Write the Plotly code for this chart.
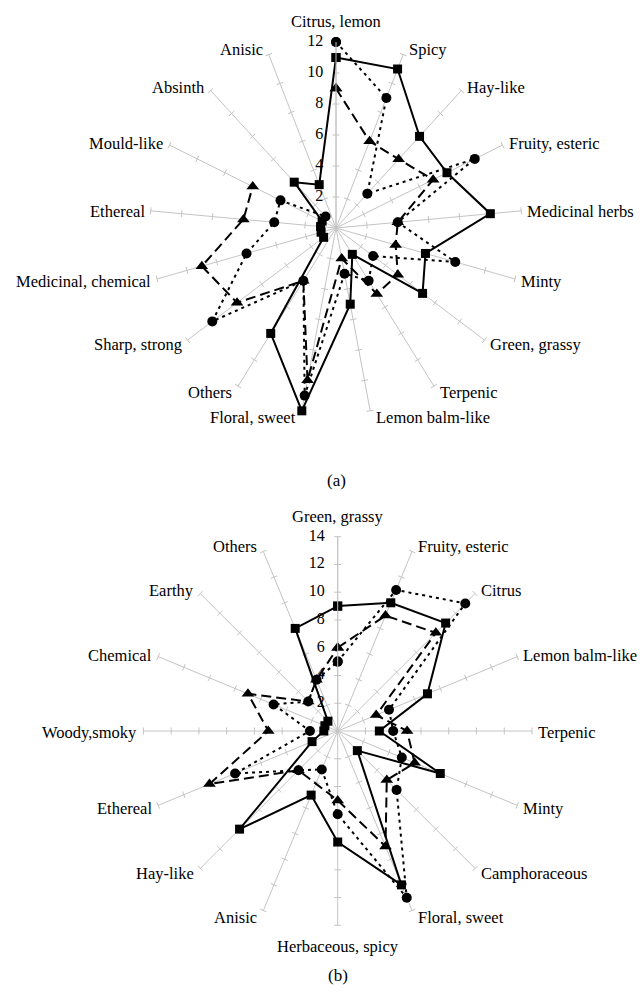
import math
import plotly.graph_objects as go

# ---- Panel (a): aroma attributes, three samples ----
cats_a = ["Citrus, lemon", "Spicy", "Hay-like", "Fruity, esteric", "Medicinal herbs",
          "Minty", "Green, grassy", "Terpenic", "Lemon balm-like", "Floral, sweet",
          "Others", "Sharp, strong", "Medicinal, chemical", "Ethereal", "Mould-like",
          "Absinth", "Anisic"]
square_a = [11, 11, 8, 8, 10, 6, 7, 2, 5, 12, 8, 1, 1, 1, 1, 4, 3]
circle_a = [12, 9, 3, 10, 4, 8, 3, 4, 3, 11, 4, 10, 6, 4, 4, 1, None]
triangle_a = [9, 6, 6, 7, 4, 4, 5, 5, 2, 10, 4, 8, 9, 6, 6, None, None]
ticks_a = [2, 4, 6, 8, 10, 12]

# ---- Panel (b) ----
cats_b = ["Green, grassy", "Fruity, esteric", "Citrus", "Lemon balm-like", "Terpenic",
          "Minty", "Camphoraceous", "Floral, sweet", "Herbaceous, spicy", "Anisic",
          "Hay-like", "Ethereal", "Woody,smoky", "Chemical", "Earthy", "Others"]
square_b = [9, 10, 11, 7, 3, 8, 2, 12, 8, 5, 10, 2, 1, 1, 1, 8]
circle_b = [5, 11, 13, 4, 4, 5, 6, 13, 6, 3, 4, 8, 2, 5, 3, 4]
triangle_b = [6, 9, 10, 3, 5, 6, 5, 9, 5, None, 4, 10, 5, 7, 3, 4]
ticks_b = [2, 4, 6, 8, 10, 12, 14]

FONT = "Liberation Serif"
GRID = "#c4c4c4"
W, H = 644, 996
center_a, rad_a = (336, 228), 186
center_b, rad_b = (337.7, 731), 194.3

fig = go.Figure()


def closed(values):
    return list(values) + [values[0]]


def add_spoke_ticks(cats, tickvals, subplot):
    # small perpendicular tick marks along every spoke
    n = len(cats)
    r, th, ang = [], [], []
    for i, c in enumerate(cats):
        for v in tickvals:
            r.append(v)
            th.append(c)
            ang.append(i * 360.0 / n - 90)
    fig.add_trace(go.Scatterpolar(
        r=r, theta=th, mode="markers", subplot=subplot, hoverinfo="skip",
        marker=dict(symbol="line-ns", size=5, angle=ang,
                    line=dict(color=GRID, width=1)),
        showlegend=False))


def add_value_labels(cats, tickvals, subplot):
    # numbers along the top spoke, set to its left
    fig.add_trace(go.Scatterpolar(
        r=tickvals, theta=[cats[0]] * len(tickvals), subplot=subplot,
        mode="markers+text", text=[str(v) for v in tickvals],
        textposition="middle left", cliponaxis=False, hoverinfo="skip",
        textfont=dict(family=FONT, size=16, color="black"),
        marker=dict(size=19, color="rgba(0,0,0,0)"),
        showlegend=False))


def add_series(cats, vals, subplot, symbol, size, dash, gaps=False):
    fig.add_trace(go.Scatterpolar(
        r=closed(vals), theta=closed(cats), subplot=subplot,
        mode="lines+markers", connectgaps=gaps, cliponaxis=False,
        line=dict(color="black", width=2, dash=dash),
        marker=dict(symbol=symbol, size=size, color="black"),
        showlegend=False))


def category_labels(cats, center, R):
    # attribute names placed just beyond the end of each spoke
    out = []
    n = len(cats)
    cx, cy = center
    for i, c in enumerate(cats):
        th = math.radians(90 - i * 360.0 / n)
        co, si = math.cos(th), math.sin(th)
        px, py = cx + R * co, cy - R * si
        if abs(co) < 0.05:
            xanchor, xs = "center", 0
            down = -20 if si > 0 else 21
        else:
            xanchor = "left" if co > 0 else "right"
            xs = 4 if co > 0 else -4
            down = 1 - 6 * si
        out.append(dict(text=c, x=px / W, y=1 - py / H, xref="paper", yref="paper",
                        xanchor=xanchor, yanchor="middle", xshift=xs, yshift=-down,
                        showarrow=False,
                        font=dict(family=FONT, size=16.5, color="black")))
    return out


add_spoke_ticks(cats_a, ticks_a, "polar")
add_spoke_ticks(cats_b, ticks_b, "polar2")
add_value_labels(cats_a, ticks_a, "polar")
add_value_labels(cats_b, ticks_b, "polar2")

add_series(cats_a, circle_a, "polar", "circle", 10, "3px,4px")
add_series(cats_a, triangle_a, "polar", "triangle-up", 11, "10px,5px")
add_series(cats_a, square_a, "polar", "square", 9, "solid")

add_series(cats_b, circle_b, "polar2", "circle", 10, "3px,4px")
add_series(cats_b, triangle_b, "polar2", "triangle-up", 11, "10px,5px", gaps=True)
add_series(cats_b, square_b, "polar2", "square", 9, "solid")


def polar_layout(cats, rmax, center, R):
    cx, cy = center
    return dict(
        domain=dict(x=[(cx - R) / W, (cx + R) / W],
                    y=[(H - cy - R) / H, (H - cy + R) / H]),
        bgcolor="white",
        radialaxis=dict(range=[0, rmax], showgrid=False, showticklabels=False,
                        showline=True, linecolor=GRID, linewidth=1, ticks="",
                        angle=90),
        angularaxis=dict(type="category", categoryorder="array", categoryarray=cats,
                         rotation=90, direction="clockwise", showgrid=True,
                         gridcolor=GRID, gridwidth=1, showline=False,
                         ticks="", showticklabels=False),
    )


annotations = category_labels(cats_a, center_a, rad_a) + category_labels(cats_b, center_b, rad_b)
annotations += [
    dict(text="(a)", x=336 / W, y=1 - 480 / H, xref="paper", yref="paper",
         showarrow=False, font=dict(family=FONT, size=17, color="black")),
    dict(text="(b)", x=338 / W, y=1 - 987 / H, xref="paper", yref="paper",
         showarrow=False, font=dict(family=FONT, size=17, color="black")),
]

fig.update_layout(
    width=W, height=H,
    margin=dict(l=0, r=0, t=0, b=0),
    paper_bgcolor="white",
    polar=polar_layout(cats_a, 12, center_a, rad_a),
    polar2=polar_layout(cats_b, 14, center_b, rad_b),
    annotations=annotations,
)

fig.write_html("out.html")
